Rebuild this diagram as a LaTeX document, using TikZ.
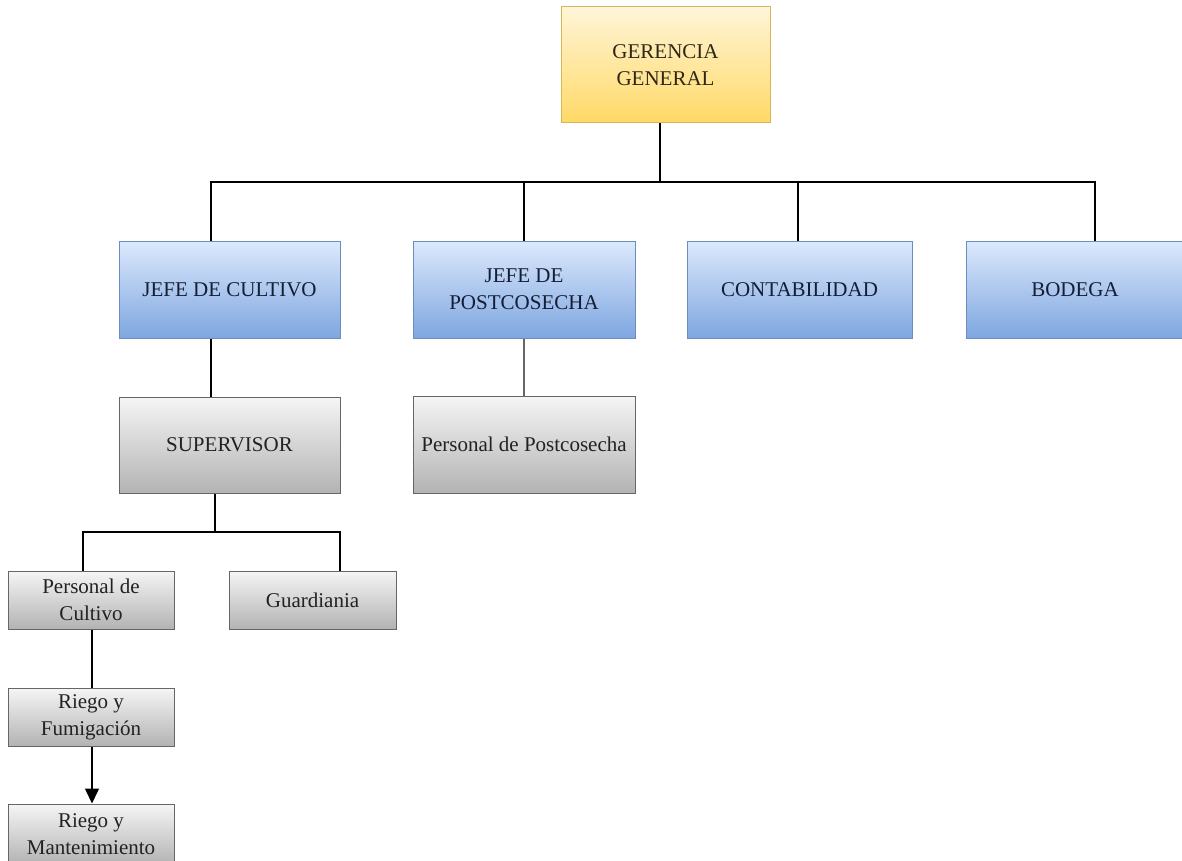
\documentclass[tikz,border=0pt]{standalone}
\usepackage{fontspec}
\setmainfont{Liberation Serif}
\usetikzlibrary{arrows.meta}
\definecolor{oroarriba}{HTML}{FFF5D8}
\definecolor{oroabajo}{HTML}{FFD966}
\definecolor{oroborde}{HTML}{D6B656}
\definecolor{oroletra}{HTML}{2E2718}
\definecolor{azularriba}{HTML}{DCE9FC}
\definecolor{azulabajo}{HTML}{7EA6E0}
\definecolor{azulborde}{HTML}{6C8EBF}
\definecolor{azulletra}{HTML}{141E36}
\definecolor{grisarriba}{HTML}{F5F5F5}
\definecolor{grisabajo}{HTML}{B3B3B3}
\definecolor{grisborde}{HTML}{666666}
\definecolor{grisletra}{HTML}{222222}
\tikzset{
  caja/.style={draw, line width=1pt, align=center, inner sep=1pt,
    font=\fontsize{21}{27}\selectfont},
  gerencia/.style={caja, draw=oroborde, top color=oroarriba,
    bottom color=oroabajo, text=oroletra},
  jefe/.style={caja, draw=azulborde, top color=azularriba,
    bottom color=azulabajo, text=azulletra,
    minimum height=97pt},
  gris/.style={caja, draw=grisborde, top color=grisarriba,
    bottom color=grisabajo, text=grisletra},
  linea/.style={line width=1.5pt},
}
\begin{document}
\begin{tikzpicture}[x=1pt,y=-1pt]
\useasboundingbox (0,0) rectangle (1182,861);
% cajas
\node[gerencia, minimum width=209pt, minimum height=116pt] (ger) at (665.5,65) {GERENCIA\\GENERAL};
\node[jefe, minimum width=221pt] (cult) at (229.5,289.5) {JEFE DE CULTIVO};
\node[jefe, minimum width=222pt] (post) at (524,289.5) {JEFE DE\\POSTCOSECHA};
\node[jefe, minimum width=225pt] (cont) at (799.5,289.5) {CONTABILIDAD};
\node[jefe, minimum width=218pt] (bod) at (1075,289.5) {BODEGA};
\node[gris, minimum width=221pt, minimum height=96pt] (sup) at (229.5,445) {SUPERVISOR};
\node[gris, minimum width=222pt, minimum height=97pt] (perpost) at (524,444.5) {Personal de Postcosecha};
\node[gris, minimum width=166pt, minimum height=58pt] (percult) at (91,600) {Personal de\\Cultivo};
\node[gris, minimum width=167pt, minimum height=58pt] (guard) at (312.5,600) {Guardiania};
\node[gris, minimum width=166pt, minimum height=58pt] (riegofum) at (91,717) {Riego y\\Fumigación};
\node[gris, minimum width=166pt, minimum height=60pt] (riegoman) at (91,834) {Riego y\\Mantenimiento};
% barras
\coordinate (barra) at (0,182);
\coordinate (barrasup) at (0,532);
% conectores
\draw[linea] ([xshift=-5.5pt]ger.south) -- ([xshift=-5.5pt]ger.south |- barra) -| ([xshift=-18.5pt]cult.north);
\draw[linea] ([xshift=-5.5pt]ger.south |- barra) -| (post.north);
\draw[linea] ([xshift=-5.5pt]ger.south |- barra) -| ([xshift=-1.5pt]cont.north);
\draw[linea] ([xshift=-5.5pt]ger.south |- barra) -| ([xshift=20pt]bod.north);
\draw[linea] ([xshift=-18.5pt]cult.south) -- ([xshift=-18.5pt]sup.north);
\draw[line width=2.5pt, grisborde] (post.south) -- (perpost.north);
\draw[linea] ([xshift=-14.5pt]sup.south) -- ([xshift=-14.5pt]sup.south |- barrasup) -| ([xshift=-8pt]percult.north);
\draw[linea] ([xshift=-14.5pt]sup.south |- barrasup) -| ([xshift=27.5pt]guard.north);
\draw[linea] ([xshift=1pt]percult.south) -- ([xshift=1pt]riegofum.north);
\draw[linea, -{Triangle[width=14pt,length=15pt]}] ([xshift=1pt]riegofum.south) -- ([xshift=1pt]riegoman.north);
\end{tikzpicture}
\end{document}
